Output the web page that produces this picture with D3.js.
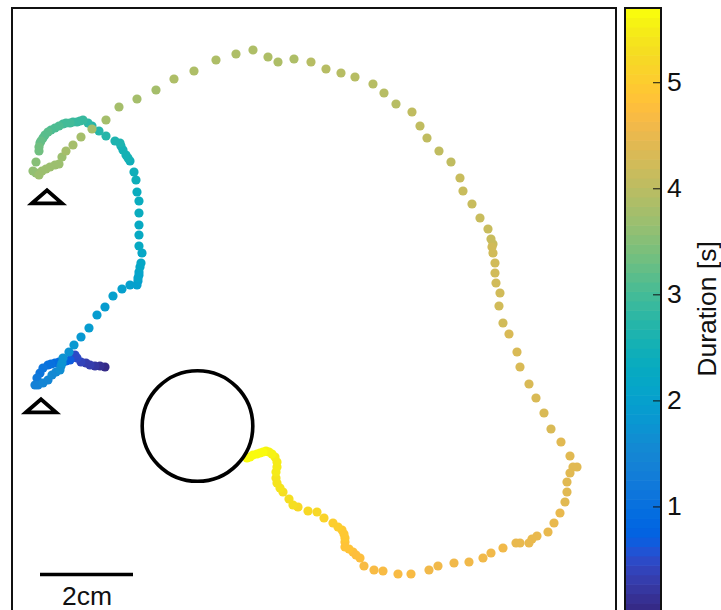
<!DOCTYPE html>
<html><head><meta charset="utf-8">
<script src="https://cdn.jsdelivr.net/npm/d3@7"></script>
<style>html,body{margin:0;padding:0;background:#fff;overflow:hidden}svg{display:block}text{font-family:"Liberation Sans",Arial,sans-serif;fill:#111}</style>
</head><body><svg id="c" width="721" height="610"></svg>
<script>
// Track samples: position in picture units and elapsed duration [s]
const trackX = [105,100,95,90,86,81,77,75,70,66,
63,59,55,51,48,43,40,37,35,38,
43,48,52,56,60,61,62,63,69,74,
81,89,97,105,113,122,130,137,138,138,
139,139,140,141,142,139,139,139,139,139,
137,136,134,130,128,126,123,121,120,115,
106,99,92,88,83,80,77,73,70,66,
63,59,55,51,48,45,43,41,40,39,
39,36,33,36,39,42,46,50,55,59,
62,66,73,81,92,106,119,137,156,174,
194,216,236,253,268,278,294,311,326,341,
355,373,384,396,412,420,427,439,451,460,
463,472,480,488,491,493,492,493,495,495,
496,500,499,503,509,517,520,529,536,544,
551,561,570,577,573,570,567,567,565,560,
554,548,537,532,529,520,516,503,491,483,
469,454,438,429,411,398,383,374,364,360,
356,353,349,345,345,345,344,342,338,333,
324,317,308,298,293,289,283,280,277,276,
276,277,277,275,272,269,266,263,260,257,
253,250,247];
const trackY = [367,366,366,365,363,362,358,355,360,361,
362,362,363,364,365,368,373,378,385,385,
383,380,375,372,370,366,363,358,352,345,
337,328,315,307,296,289,285,285,281,278,
275,272,267,263,253,246,235,225,213,201,
192,180,172,161,158,155,150,146,143,141,
136,131,126,123,120,121,122,122,123,123,
124,126,128,130,132,135,138,141,143,147,
151,162,171,173,175,171,169,167,165,164,
157,151,145,137,129,120,107,99,90,79,
71,60,54,50,57,62,59,62,69,73,
77,84,93,104,112,126,138,151,162,178,
191,204,218,229,239,244,247,253,263,273,
283,293,306,323,334,352,367,384,398,413,
429,442,456,467,467,473,482,492,502,513,
523,532,536,539,543,543,543,548,553,558,
562,563,566,570,574,574,571,570,566,558,
555,552,549,547,542,538,534,530,527,523,
518,512,511,507,505,499,492,488,483,478,
472,467,462,457,454,452,451,452,453,454,
455,457,458];
const trackDuration = [.05,.12,.2,.27,.33,.4,.46,.52,.7,.8,
.85,.9,.95,1.0,1.05,1.1,1.15,1.22,1.35,1.4,
1.45,1.5,1.55,1.6,1.65,1.68,1.7,1.72,1.78,1.82,
1.86,1.9,1.93,1.95,1.97,1.98,1.99,2.0,2.03,2.06,
2.09,2.12,2.15,2.18,2.21,2.24,2.27,2.3,2.33,2.36,
2.39,2.42,2.45,2.48,2.5,2.52,2.55,2.58,2.6,2.63,
2.68,2.72,2.76,2.8,2.85,2.88,2.9,2.93,2.96,2.99,
3.02,3.05,3.08,3.11,3.14,3.17,3.2,3.23,3.26,3.3,
3.35,3.5,3.62,3.65,3.68,3.69,3.7,3.71,3.72,3.73,
3.74,3.75,3.76,3.77,3.78,3.79,3.8,3.81,3.82,3.83,
3.84,3.85,3.86,3.87,3.88,3.89,3.9,3.92,3.93,3.95,
3.96,3.98,3.99,4.0,4.02,4.03,4.05,4.07,4.08,4.1,
4.11,4.13,4.15,4.16,4.17,4.18,4.19,4.2,4.21,4.22,
4.24,4.25,4.26,4.27,4.28,4.29,4.3,4.31,4.33,4.34,
4.35,4.37,4.39,4.4,4.41,4.42,4.43,4.44,4.45,4.47,
4.48,4.49,4.5,4.51,4.52,4.53,4.54,4.55,4.57,4.58,
4.6,4.61,4.62,4.63,4.65,4.66,4.67,4.68,4.7,4.74,
4.76,4.79,4.82,4.85,4.88,4.91,4.94,4.97,5.0,5.05,
5.14,5.17,5.2,5.25,5.27,5.3,5.34,5.37,5.4,5.43,
5.45,5.47,5.5,5.52,5.55,5.58,5.6,5.62,5.63,5.65,
5.66,5.68,5.7];
const colorTicks = [1,2,3,4,5];
const colorLabel = "Duration [s]";
const scaleLabel = "2cm";
const parula = [[.2081,.1663,.5292],[.2116,.1898,.5777],[.2123,.2138,.627],[.2081,.2386,.6771],[.1959,.2645,.7279],[.1707,.2919,.7792],[.1253,.3242,.8303],[.0591,.3598,.8683],[.0117,.3875,.882],[.006,.4086,.8828],[.0165,.4266,.8786],[.0329,.443,.872],[.0498,.4586,.8641],[.0629,.4737,.8554],[.0723,.4887,.8467],[.0779,.504,.8384],[.0793,.52,.8312],[.0749,.5375,.8263],[.0641,.557,.824],[.0488,.5772,.8228],[.0343,.5966,.8199],[.0265,.6137,.8135],[.0239,.6287,.8038],[.0231,.6418,.7913],[.0228,.6535,.7768],[.0267,.6642,.7607],[.0384,.6743,.7436],[.059,.6838,.7254],[.0843,.6928,.7062],[.1133,.7015,.6859],[.1453,.7098,.6646],[.1801,.7177,.6424],[.2178,.725,.6193],[.2586,.7317,.5954],[.3022,.7376,.5712],[.3482,.7424,.5473],[.3953,.7459,.5244],[.442,.7481,.5033],[.4871,.7491,.484],[.53,.7491,.4661],[.5709,.7485,.4494],[.6099,.7473,.4337],[.6473,.7456,.4188],[.6834,.7435,.4044],[.7184,.7411,.3905],[.7525,.7384,.3768],[.7858,.7356,.3633],[.8185,.7327,.3498],[.8507,.7299,.336],[.8824,.7274,.3217],[.9139,.7258,.3063],[.945,.7261,.2886],[.9739,.7314,.2666],[.9938,.7455,.2403],[.999,.7653,.2164],[.9955,.7861,.1967],[.988,.8066,.1794],[.9789,.8271,.1633],[.9697,.8481,.1475],[.9626,.8705,.1309],[.9589,.8949,.1132],[.9598,.9218,.0948],[.9661,.9514,.0755],[.9763,.9831,.0538]]
  .map(c => d3.rgb(c[0]*255, c[1]*255, c[2]*255).formatHex());

const svg = d3.select("#c");
const FONT = 26.5;
const panelW = 604, panelL = 12, panelT = 8;
const x = d3.scaleLinear().domain([12,616]).range([panelL, panelL+panelW]);
const y = d3.scaleLinear().domain([8,640]).range([panelT, 640]);
const durMax = 5.7;
const color = d3.scaleQuantize().domain([0,durMax]).range(parula);

// panel
svg.append("rect").attr("x",panelL).attr("y",panelT).attr("width",panelW).attr("height",640)
  .attr("fill","#fff").attr("stroke","#111").attr("stroke-width",2);

// track
svg.append("g").selectAll("circle").data(d3.range(trackX.length)).join("circle")
  .attr("cx",i=>x(trackX[i])).attr("cy",i=>y(trackY[i])).attr("r",4.6)
  .attr("fill",i=>color(trackDuration[i]));

// target circle
svg.append("circle").attr("cx",x(197.5)).attr("cy",y(426)).attr("r",55.3)
  .attr("fill","none").attr("stroke","#000").attr("stroke-width",3.6);

// start triangles
const tri = d3.line().x(d=>x(d[0])).y(d=>y(d[1]));
const triangleCx = [47,41], triangleBase = [203.3,412.3];
svg.append("g").selectAll("path").data(triangleCx).join("path")
  .attr("d",(c,i)=>tri([[c-15,triangleBase[i]],[c,triangleBase[i]-13],[c+15,triangleBase[i]]])+"Z")
  .attr("fill","none").attr("stroke","#000").attr("stroke-width",3.8).attr("stroke-linejoin","miter");

// scale bar
svg.append("line").attr("x1",x(40)).attr("x2",x(133)).attr("y1",y(574.5)).attr("y2",y(574.5))
  .attr("stroke","#000").attr("stroke-width",3.6);
svg.append("text").attr("x",x(87)).attr("y",605).attr("text-anchor","middle").attr("font-size",FONT).text(scaleLabel);

// colorbar
const cbL = 625, cbR = 661;
const cy = d3.scaleLinear().domain([0,durMax]).range([612.5,8]);
const bw = durMax/parula.length;
svg.append("g").selectAll("rect").data(parula).join("rect")
  .attr("x",cbL).attr("width",cbR-cbL)
  .attr("y",(d,i)=>cy((i+1)*bw)).attr("height",(d,i)=>cy(i*bw)-cy((i+1)*bw)+.6)
  .attr("fill",d=>d);
svg.append("rect").attr("x",cbL).attr("y",8).attr("width",cbR-cbL).attr("height",640)
  .attr("fill","none").attr("stroke","#111").attr("stroke-width",2);
const ax = svg.append("g").attr("transform",`translate(${cbR},0)`)
  .call(d3.axisRight(cy).tickValues(colorTicks).tickFormat(d3.format("d")).tickSize(-8).tickPadding(6));
ax.select(".domain").remove();
ax.selectAll("line").attr("stroke","#111").attr("stroke-width",1);
ax.selectAll("text").attr("font-size",FONT).attr("fill","#111").attr("font-family",'"Liberation Sans",Arial,sans-serif');
svg.append("text").attr("transform","translate(716,309) rotate(-90)").attr("text-anchor","middle")
  .attr("font-size",FONT).text(colorLabel);
</script></body></html>
